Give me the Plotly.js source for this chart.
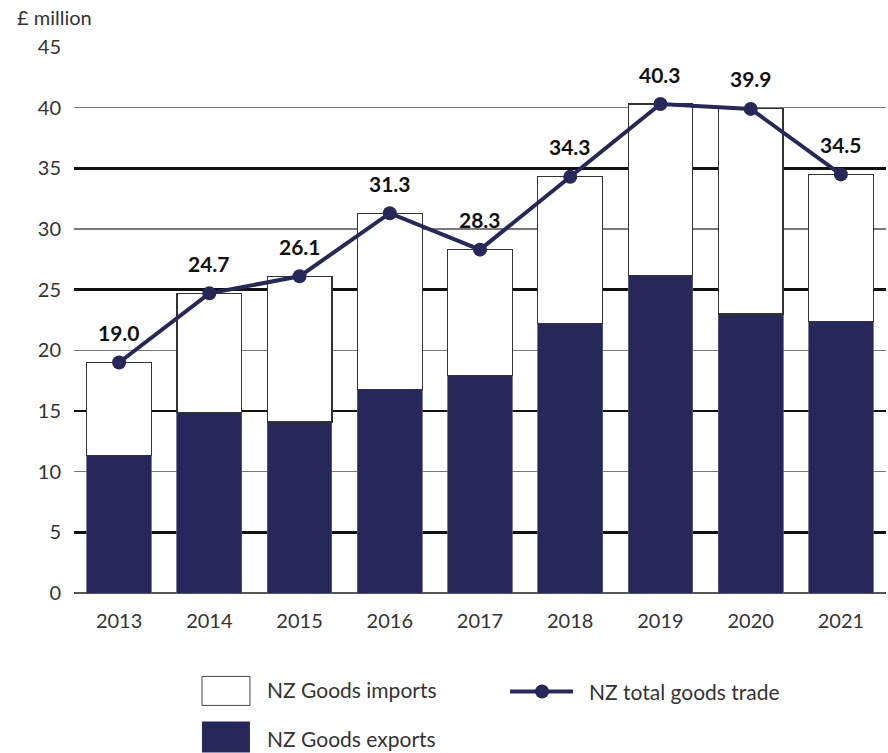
<!DOCTYPE html>
<html>
<head>
<meta charset="utf-8">
<script src="https://cdn.plot.ly/plotly-3.0.1.min.js"></script>
<style>html,body{margin:0;padding:0;background:#fff;}#chart{width:888px;height:753px;}</style>
</head>
<body>
<div id="chart"></div>
<script>
const years = ['2013','2014','2015','2016','2017','2018','2019','2020','2021'];
const exportsVals = [11.3, 14.9, 14.1, 16.8, 17.9, 22.2, 26.2, 23.0, 22.4];
const importsVals = [7.7, 9.8, 12.0, 14.5, 10.4, 12.1, 14.1, 16.9, 12.1];
const totalVals = [19.0, 24.7, 26.1, 31.3, 28.3, 34.3, 40.3, 39.9, 34.5];
const totalLabels = ['19.0','24.7','26.1','31.3','28.3','34.3','40.3','39.9','34.5'];
const yTicks = [0,5,10,15,20,25,30,35,40,45];

const NAVY = '#27285a';
const FONT = 'Lato, "Open Sans", sans-serif';

const traces = [
  {type:'bar', name:'NZ Goods exports', x:years, y:exportsVals,
   marker:{color:NAVY, line:{color:'#5a5c7e', width:0.8}}, hoverinfo:'skip'},
  {type:'bar', name:'NZ Goods imports', x:years, y:importsVals,
   marker:{color:'#ffffff', line:{color:'#333333', width:1.2}}, hoverinfo:'skip'},
  {type:'scatter', mode:'lines+markers', name:'NZ total goods trade', x:years, y:totalVals,
   line:{color:NAVY, width:4}, marker:{color:NAVY, size:14}, cliponaxis:false, hoverinfo:'skip'},
  {type:'scatter', x:years, y:totalVals, yaxis:'y2', mode:'none', showlegend:false, hoverinfo:'skip'}
];

const annotations = totalVals.map((v,i)=>({
  x: i, y: v, xref:'x', yref:'y', text: totalLabels[i], showarrow:false,
  xanchor:'center', yanchor:'middle', yshift: 30,
  font:{family:FONT, size:21, color:'#111', weight:700}
}));
annotations.push({xref:'paper', yref:'paper', x:-0.073, y:1.055, xanchor:'left', yanchor:'middle',
  text:'£ million', showarrow:false, font:{family:FONT, size:20, color:'#333'}});
annotations.push({xref:'paper', yref:'paper', x:0.2352, y:-0.1766, xanchor:'left', yanchor:'middle',
  text:'NZ Goods imports', showarrow:false, font:{family:FONT, size:21, color:'#333'}});
annotations.push({xref:'paper', yref:'paper', x:0.2352, y:-0.2663, xanchor:'left', yanchor:'middle',
  text:'NZ Goods exports', showarrow:false, font:{family:FONT, size:21, color:'#333'}});
annotations.push({xref:'paper', yref:'paper', x:0.6318, y:-0.1803, xanchor:'left', yanchor:'middle',
  text:'NZ total goods trade', showarrow:false, font:{family:FONT, size:21, color:'#333'}});

const shapes = [
  {type:'rect', xref:'paper', yref:'paper', x0:0.1576, x1:0.2167, y0:-0.2059, y1:-0.1528,
   fillcolor:'#fff', line:{color:'#444', width:1}},
  {type:'rect', xref:'paper', yref:'paper', x0:0.1576, x1:0.2167, y0:-0.2919, y1:-0.2352,
   fillcolor:NAVY, line:{width:0}},
  {type:'line', xref:'paper', yref:'paper', x0:0.537, x1:0.6145, y0:-0.1803, y1:-0.1803,
   line:{color:NAVY, width:4}},
  {type:'circle', xref:'paper', yref:'paper', x0:0.5764-0.0086, x1:0.5764+0.0086,
   y0:-0.1803-0.0128, y1:-0.1803+0.0128, fillcolor:NAVY, line:{width:0}}
];

const layout = {
  width:888, height:753,
  margin:{l:74, r:2, t:47, b:159.5},
  paper_bgcolor:'#fff', plot_bgcolor:'#fff',
  barmode:'stack', bargap:0.283,
  showlegend:false,
  font:{family:FONT, size:20, color:'#333'},
  xaxis:{type:'category', range:[-0.5,8.5], showgrid:false, zeroline:false, showline:false,
    ticks:'', tickfont:{family:FONT, size:20, color:'#333'}, ticklabelstandoff:14},
  yaxis:{range:[0,45], tickvals:yTicks, ticktext:yTicks.map(String), showgrid:true,
    gridcolor:'#7a7a7a', gridwidth:1.2, zeroline:true, zerolinecolor:'#555', zerolinewidth:2,
    showline:false, ticks:'', tickfont:{family:FONT, size:20, color:'#333'}, ticklabelstandoff:12},
  yaxis2:{overlaying:'y', range:[0,45], tickvals:[5,15,25,35,45], showticklabels:false,
    showgrid:true, gridcolor:'#111', gridwidth:2.5, zeroline:false, showline:false, ticks:''},
  annotations:annotations,
  shapes:shapes
};

Plotly.newPlot('chart', traces, layout, {staticPlot:true, displayModeBar:false});
</script>
</body>
</html>
